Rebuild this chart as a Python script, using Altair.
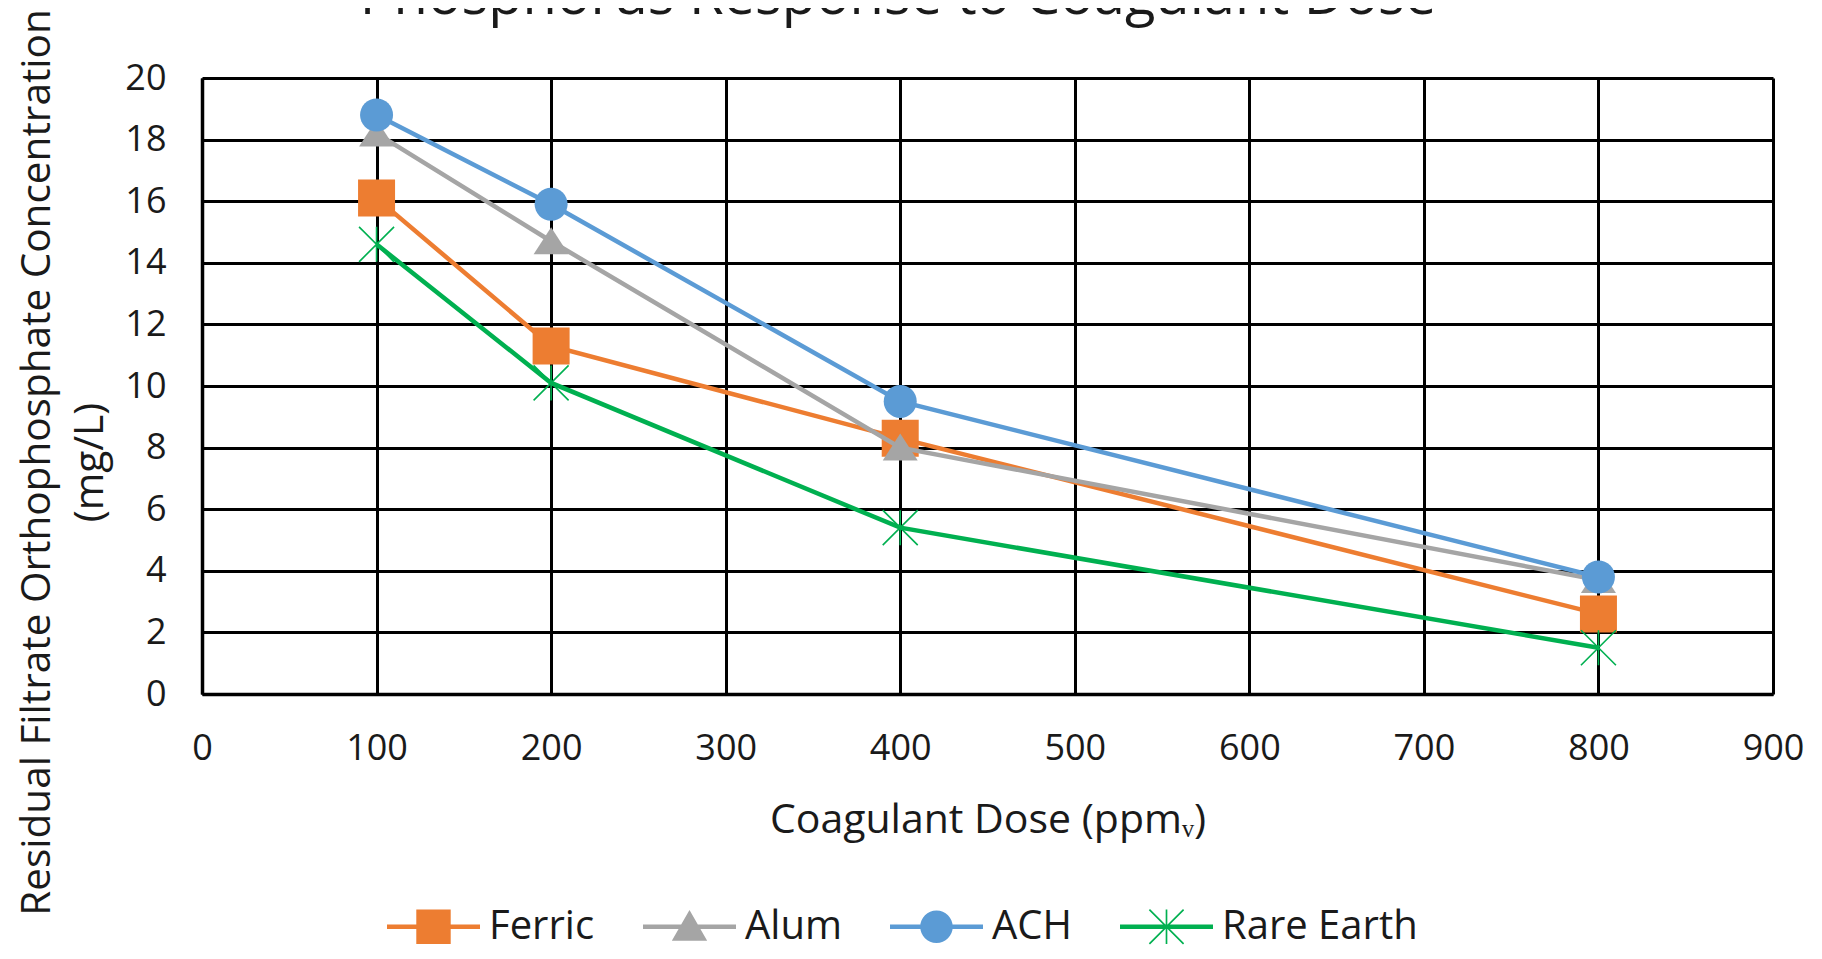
import math
import altair as alt
import pandas as pd

# ---- data ----
chart_title = "Phosphorus Response to Coagulant Dose"
doses = [100, 200, 400, 800]
series_names = ["Ferric", "Alum", "ACH", "Rare Earth"]
ferric = [16.1, 11.3, 8.3, 2.6]
alum = [18.2, 14.7, 8.0, 3.7]
ach = [18.8, 15.9, 9.5, 3.8]
rare_earth = [14.6, 10.1, 5.4, 1.5]
x_ticks = [0, 100, 200, 300, 400, 500, 600, 700, 800, 900]
y_ticks = [0, 2, 4, 6, 8, 10, 12, 14, 16, 18, 20]
colors = ["#ED7D31", "#A5A5A5", "#5B9BD5", "#00B050"]

rows = []
for name, vals in zip(series_names, [ferric, alum, ach, rare_earth]):
    for d, v in zip(doses, vals):
        rows.append({"series": name, "dose": d, "conc": v})
df = pd.DataFrame(rows)

FONT = "Open Sans"
TXT = "#1a1a1a"


def f(v):
    return f"{v:.4f}"


def rect(x0, y0, x1, y1):
    return f"M{f(x0)},{f(y0)}L{f(x1)},{f(y0)}L{f(x1)},{f(y1)}L{f(x0)},{f(y1)}Z"


def spoke(angle_deg, half_len, half_w):
    a = math.radians(angle_deg)
    dx, dy = math.cos(a), math.sin(a)
    nx, ny = -dy, dx
    pts = [
        (-half_len * dx - half_w * nx, -half_len * dy - half_w * ny),
        (half_len * dx - half_w * nx, half_len * dy - half_w * ny),
        (half_len * dx + half_w * nx, half_len * dy + half_w * ny),
        (-half_len * dx + half_w * nx, -half_len * dy + half_w * ny),
    ]
    return "M" + "L".join(f"{f(x)},{f(y)}" for x, y in pts) + "Z"


def circle_path(r):
    return f"M{f(-r)},0A{f(r)},{f(r)} 0 1,1 {f(r)},0A{f(r)},{f(r)} 0 1,1 {f(-r)},0Z"


# legend symbols: line segment + marker (unit box -1..1)
lw = 0.05
line_seg = rect(-1, -lw, 1, lw)
legend_paths = [
    line_seg + rect(-0.37, -0.37, 0.37, 0.37),
    line_seg + "M0,-0.36L0.38,0.30L-0.38,0.30Z",
    line_seg + circle_path(0.35),
    line_seg + spoke(45, 0.52, 0.018) + spoke(-45, 0.52, 0.018) + spoke(90, 0.37, 0.018),
]

# chart markers
marker_specs = {
    "Ferric": dict(shape="M-1,-1L1,-1L1,1L-1,1Z", size=1369, filled=True, sw=0),
    "Alum": dict(shape="M0,-0.7L0.875,0.65L-0.875,0.65Z", size=1600, filled=True, sw=0),
    "ACH": dict(shape="circle", size=1089, filled=True, sw=0),
    "Rare Earth": dict(shape="M-1,-1L1,1M-1,1L1,-1M0,-1L0,1", size=1225, filled=False, sw=1.6),
}

W, H = 1571, 616

enc_x = alt.X(
    "dose:Q",
    scale=alt.Scale(domain=[0, 900], nice=False, zero=False),
    axis=alt.Axis(
        values=x_ticks, grid=True, gridColor="black", gridWidth=3, gridOpacity=1,
        ticks=False, domainColor="black", domainWidth=3.5,
        labelFont=FONT, labelFontSize=36, labelColor=TXT, labelPadding=37,
        labelFlush=False, labelOverlap=False,
        title="Coagulant Dose (ppmᵥ)", titleFont=FONT, titleFontSize=41,
        titleFontWeight="normal", titleColor=TXT, titleBaseline="alphabetic",
        titleY=138,
    ),
)
enc_y = alt.Y(
    "conc:Q",
    scale=alt.Scale(domain=[0, 20], nice=False),
    axis=alt.Axis(
        values=y_ticks, grid=True, gridColor="black", gridWidth=3, gridOpacity=1,
        ticks=False, domainColor="black", domainWidth=3.5,
        labelFont=FONT, labelFontSize=36, labelColor=TXT, labelPadding=36,
        labelFlush=False, labelOverlap=False,
        title=["Residual Filtrate Orthophosphate Concentration", "(mg/L)"],
        titleFont=FONT, titleFontSize=40.5, titleFontWeight="normal", titleColor=TXT,
        titleLineHeight=53, titleAngle=270, titleX=-165, titleY=384,
        titleBaseline="middle", titleAlign="center",
    ),
)

leg = alt.Legend(
    orient="none", legendX=185, legendY=802, direction="horizontal", title=None,
    symbolSize=8649, symbolStrokeWidth=0, symbolOpacity=1,
    labelFont=FONT, labelFontSize=40, labelColor=TXT, labelOffset=9,
    columnPadding=48, padding=0, labelLimit=600,
)

legend_layer = alt.Chart(df).mark_point(filled=True, opacity=0).encode(
    x=enc_x,
    y=enc_y,
    color=alt.Color("series:N", scale=alt.Scale(domain=series_names, range=colors), legend=leg),
    shape=alt.Shape("series:N", scale=alt.Scale(domain=series_names, range=legend_paths), legend=leg),
)

# chart title (partly cut off at the top edge, as in the reference)
title_layer = alt.Chart(pd.DataFrame({"t": [chart_title]})).mark_text(
    font=FONT, fontSize=56, color=TXT, align="center", baseline="alphabetic",
).encode(text="t:N", x=alt.value(696), y=alt.value(-64))

layers = [legend_layer, title_layer]
for name, color in zip(series_names, colors):
    spec = marker_specs[name]
    base = alt.Chart(df).transform_filter(alt.datum.series == name)
    line = base.mark_line(color=color, strokeWidth=4.5).encode(x=enc_x, y=enc_y, order="dose:Q")
    pts = base.mark_point(
        shape=spec["shape"], size=spec["size"], filled=spec["filled"], color=color,
        opacity=1, strokeWidth=spec["sw"],
    ).encode(x=enc_x, y=enc_y)
    layers += [line, pts]

chart = alt.layer(*layers).properties(
    width=W,
    height=H,
    autosize=alt.AutoSizeParams(type="none"),
    padding={"left": 194, "top": 70, "right": 41, "bottom": 257},
).configure_view(stroke=None).configure(background="white")

chart.save("out.html", embed_options={"renderer": "svg", "actions": False})
